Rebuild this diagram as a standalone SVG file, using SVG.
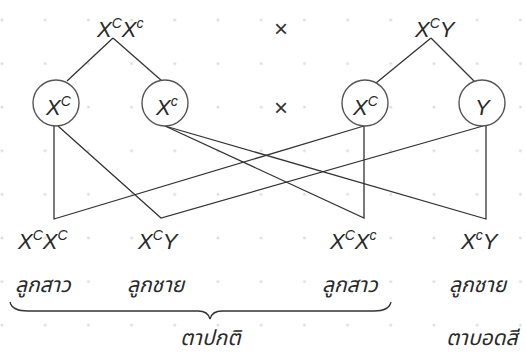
<svg xmlns="http://www.w3.org/2000/svg" width="526" height="354" viewBox="0 0 526 354">
<style>
.g{font-family:"Liberation Sans",Arial,sans-serif;font-style:italic;font-size:22px;fill:#2a2a2a}
.s{font-size:14px}
.th{font-family:"Noto Sans Thai","Noto Sans","DejaVu Sans",sans-serif;font-style:italic;font-size:21px;fill:#2a2a2a}
.x{font-family:"Liberation Sans",Arial,sans-serif;font-size:24px;fill:#333}
.ln{stroke:#333;stroke-width:1.3;fill:none}
.c{stroke:#555;stroke-width:1.4;fill:#fff}
</style>
<defs>
<pattern id="dots" patternUnits="userSpaceOnUse" x="-19.6" y="-1.8" width="43.2" height="43.6">
<path d="M20.1,21.8h3M21.6,20.3v3" stroke="#d2d2d2" stroke-width="1"/>
</pattern>
</defs>
<rect width="526" height="354" fill="#fff"/>
<rect width="526" height="354" fill="url(#dots)"/>
<g id="connectors" class="ln">
<path d="M113,38 L67,81"/>
<path d="M113,38 L162,81"/>
<path d="M431,38 L376,83"/>
<path d="M431,38 L476,83"/>
<path d="M54,126 L54,219 L364,126"/>
<path d="M58,126 L161,218 L483,126"/>
<path d="M364,126 L364,218 L165,126"/>
<path d="M486,126 L486,219 L165,126"/>
<path d="M10,302 Q12,311 28,311 L198,311 Q208,311 210,319 Q212,311 222,311 L374,311 Q389,311 391,302"/>
</g>
<g id="p1"><text class="g" x="97" y="37">X<tspan class="s" dy="-9">C</tspan><tspan dy="9">X</tspan><tspan class="s" dy="-9">c</tspan></text></g>
<g id="cross1"><text class="x" x="281" y="37" text-anchor="middle">×</text></g>
<g id="p2"><text class="g" x="415" y="37">X<tspan class="s" dy="-9">C</tspan><tspan dy="9">Y</tspan></text></g>
<g id="g1"><circle class="c" cx="56" cy="103" r="23"/><text class="g" x="46" y="115" font-size="20">X<tspan class="s" dy="-9">C</tspan></text></g>
<g id="g2"><circle class="c" cx="165" cy="103" r="23"/><text class="g" x="156" y="115" font-size="20">X<tspan class="s" dy="-9" font-size="11">c</tspan></text></g>
<g id="cross2"><text class="x" x="281" y="116" text-anchor="middle">×</text></g>
<g id="g3"><circle class="c" cx="365" cy="103" r="23"/><text class="g" x="353" y="115" font-size="20">X<tspan class="s" dy="-9">C</tspan></text></g>
<g id="g4"><circle class="c" cx="482" cy="103" r="23"/><text class="g" x="475" y="115" font-size="20">Y</text></g>
<g id="o1"><text class="g" x="18" y="249">X<tspan class="s" dy="-9">C</tspan><tspan dy="9">X</tspan><tspan class="s" dy="-9">C</tspan></text><text class="th" x="15" y="292">ลูกสาว</text></g>
<g id="o2"><text class="g" x="138" y="249">X<tspan class="s" dy="-9">C</tspan><tspan dy="9">Y</tspan></text><text class="th" x="127" y="292">ลูกชาย</text></g>
<g id="o3"><text class="g" x="330" y="249">X<tspan class="s" dy="-9">C</tspan><tspan dy="9">X</tspan><tspan class="s" dy="-9" font-size="11">c</tspan></text><text class="th" x="322" y="292">ลูกสาว</text></g>
<g id="o4"><text class="g" x="461" y="249">X<tspan class="s" dy="-9" font-size="11">c</tspan><tspan dy="9">Y</tspan></text><text class="th" x="449" y="292">ลูกชาย</text></g>
<g id="l1"><text class="th" x="180" y="345">ตาปกติ</text></g>
<g id="l2"><text class="th" x="446" y="345">ตาบอดสี</text></g>
</svg>
